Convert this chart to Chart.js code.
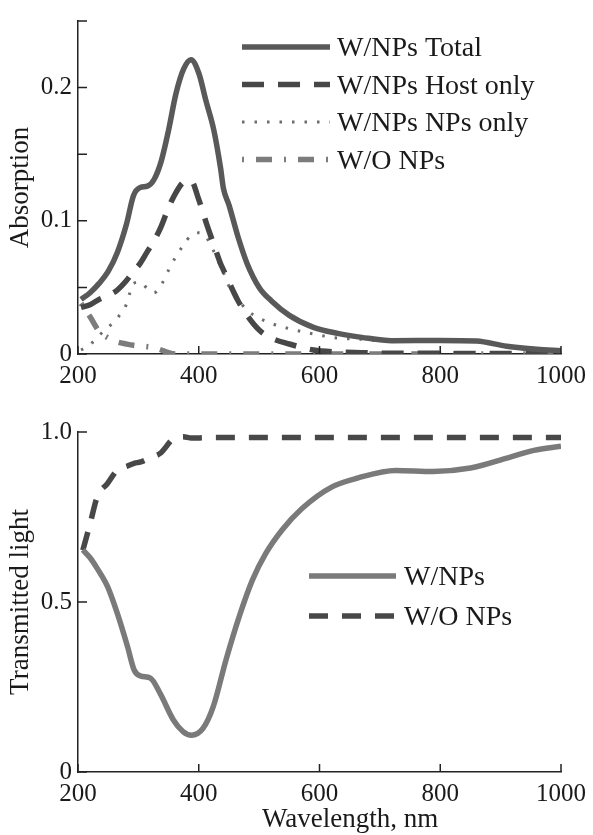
<!DOCTYPE html>
<html>
<head>
<meta charset="utf-8">
<title>Absorption / Transmitted light</title>
<script src="https://cdn.jsdelivr.net/npm/chart.js@4.4.0/dist/chart.umd.min.js"></script>
<style>
    html, body { margin: 0; padding: 0; background: #fff; }
    #wrap { position: relative; width: 593px; height: 835px; }
    .box { position: absolute; left: 0; width: 593px; }
    #xTitle {
        position: absolute; top: 805px; left: 262px;
        font: 27px 'Liberation Serif', 'DejaVu Serif', serif; color: #1a1a1a;
        white-space: nowrap; line-height: 1;
    }
</style>
</head>
<body>
<div id="wrap">
    <div class="box" style="top:0;height:395px"><canvas id="absChart"></canvas></div>
    <div class="box" style="top:395px;height:440px"><canvas id="transChart"></canvas></div>
    <div id="xTitle">Wavelength, nm</div>
</div>
<script>
// 上圖：吸收光譜
const WL_ABS = [205, 220, 235, 250, 265, 280, 292, 303, 315, 326, 338, 350, 362, 375, 387, 400, 412, 425, 436, 441, 450, 465, 480, 500, 520, 550, 590, 630, 670, 720, 800, 860, 910, 960, 1000];
const ABS_TOTAL = [0.041, 0.046, 0.053, 0.062, 0.076, 0.097, 0.119, 0.125, 0.126, 0.131, 0.145, 0.168, 0.195, 0.214, 0.221, 0.211, 0.190, 0.168, 0.140, 0.124, 0.112, 0.088, 0.068, 0.050, 0.040, 0.029, 0.020, 0.0155, 0.0125, 0.0100, 0.0102, 0.0098, 0.0058, 0.0035, 0.0025];
const ABS_HOST = [0.035, 0.037, 0.041, 0.044, 0.048, 0.055, 0.062, 0.068, 0.077, 0.085, 0.096, 0.110, 0.121, 0.129, 0.130, 0.116, 0.099, 0.082, 0.068, 0.063, 0.054, 0.040, 0.029, 0.018, 0.012, 0.0075, 0.003, 0.0015, 0.001, 0.0005, 0.0005, 0.0003, 0.0003, 0.0002, 0];
const ABS_NPS = [0.003, 0.007, 0.014, 0.020, 0.027, 0.037, 0.053, 0.054, 0.049, 0.046, 0.052, 0.063, 0.073, 0.082, 0.089, 0.091, 0.088, 0.077, 0.066, 0.061, 0.051, 0.041, 0.033, 0.027, 0.023, 0.019, 0.015, 0.012, 0.011, 0.0093, 0.0097, 0.0093, 0.0053, 0.003, 0.002];
const ABS_WO = [0.038, 0.028, 0.017, 0.012, 0.009, 0.0075, 0.0065, 0.006, 0.0055, 0.0048, 0.003, 0.001, 0, 0, 0, 0, 0, 0, 0, 0, 0, 0, 0, 0, 0, 0, 0, 0, 0, 0, 0, 0, 0, 0, 0];
const ABS_LABELS = ['W/NPs Total', 'W/NPs Host only', 'W/NPs NPs only', 'W/O NPs'];
const ABS_Y_TICKS = ['0', '', '0.1', '', '0.2', ''];

// 下圖：透射光
const WL_TRANS = [208, 220, 232, 249, 265, 282, 293, 304, 320, 336, 358, 374, 388, 407, 424, 445, 467, 489, 511, 538, 571, 620, 664, 726, 788, 850, 912, 955, 1000];
const TRANS_WITH = [0.653, 0.630, 0.598, 0.545, 0.467, 0.369, 0.300, 0.282, 0.276, 0.231, 0.153, 0.119, 0.108, 0.128, 0.192, 0.329, 0.457, 0.565, 0.643, 0.712, 0.775, 0.838, 0.865, 0.887, 0.884, 0.894, 0.924, 0.946, 0.958];
const TRANS_WO = [0.652, 0.730, 0.810, 0.849, 0.888, 0.900, 0.908, 0.912, 0.925, 0.937, 0.980, 0.986, 0.982, 0.983, 0.984, 0.984, 0.984, 0.984, 0.984, 0.984, 0.984, 0.984, 0.984, 0.984, 0.984, 0.984, 0.984, 0.984, 0.984];
const TRANS_LABELS = ['W/NPs', 'W/O NPs'];
const TRANS_Y_TICKS = ['0', '0.5', '1.0'];

const X_TICK_STEP = 200;

const FONT_FAMILY = "'Liberation Serif', 'DejaVu Serif', serif";
const TEXT_COLOR = '#1a1a1a';
const AXIS_COLOR = '#222';

function toPoints(xs, ys) {
    return xs.map((x, i) => ({ x: x, y: ys[i] }));
}

// 向內的刻度線
const inwardTicks = {
    id: 'inwardTicks',
    afterDraw(chart) {
        const { ctx, chartArea } = chart;
        const x = chart.scales.x, y = chart.scales.y;
        ctx.save();
        ctx.strokeStyle = AXIS_COLOR;
        ctx.lineWidth = 1.5;
        ctx.beginPath();
        x.ticks.forEach(t => {
            const px = x.getPixelForValue(t.value);
            ctx.moveTo(px, chartArea.bottom);
            ctx.lineTo(px, chartArea.bottom - 8);
        });
        y.ticks.forEach(t => {
            const py = y.getPixelForValue(t.value);
            ctx.moveTo(chartArea.left, py);
            ctx.lineTo(chartArea.left + 9, py);
        });
        ctx.stroke();
        ctx.restore();
    }
};

// 圖內圖例
const lineLegend = {
    id: 'lineLegend',
    afterDraw(chart, args, opts) {
        const ctx = chart.ctx;
        ctx.save();
        chart.data.datasets.forEach((ds, i) => {
            const yy = opts.y0 + i * opts.step;
            ctx.strokeStyle = ds.borderColor;
            ctx.lineWidth = ds.borderWidth;
            ctx.lineCap = 'butt';
            ctx.setLineDash(ds.borderDash || []);
            ctx.beginPath();
            ctx.moveTo(opts.x0, yy);
            ctx.lineTo(opts.x1, yy);
            ctx.stroke();
            ctx.setLineDash([]);
            ctx.fillStyle = TEXT_COLOR;
            ctx.font = '28px ' + FONT_FAMILY;
            ctx.textBaseline = 'middle';
            ctx.textAlign = 'left';
            ctx.fillText(ds.label, opts.x1 + opts.gap, yy + 2);
        });
        ctx.restore();
    }
};

function lineSet(label, xs, ys, color, width, dash) {
    return {
        label: label,
        data: toPoints(xs, ys),
        borderColor: color,
        borderWidth: width,
        borderDash: dash,
        borderCapStyle: 'butt',
        borderJoinStyle: 'round',
        pointRadius: 0,
        fill: false,
        cubicInterpolationMode: 'monotone'
    };
}

function baseScales(yMax, yStep, yLabels, yTitle, xHeight, yWidth) {
    return {
        x: {
            type: 'linear', min: 200, max: 1000,
            grid: { display: false, drawTicks: false },
            border: { display: true, color: AXIS_COLOR, width: 1.5 },
            ticks: {
                stepSize: X_TICK_STEP, padding: 7, color: TEXT_COLOR, maxRotation: 0,
                font: { family: FONT_FAMILY, size: 25 },
                callback: v => String(v)
            },
            afterFit: s => { s.height = xHeight; }
        },
        y: {
            min: 0, max: yMax,
            grid: { display: false, drawTicks: false },
            border: { display: true, color: AXIS_COLOR, width: 1.5 },
            ticks: {
                stepSize: yStep, padding: 6, color: TEXT_COLOR,
                font: { family: FONT_FAMILY, size: 25 },
                callback: (v, i) => yLabels[i]
            },
            title: {
                display: true, text: yTitle, color: TEXT_COLOR,
                font: { family: FONT_FAMILY, size: 27, lineHeight: 1.2 },
                padding: { top: 5, bottom: 0 }
            },
            afterFit: s => { s.width = yWidth; }
        }
    };
}

function initAbsChart() {
    const ctx = document.getElementById('absChart');
    new Chart(ctx, {
        type: 'line',
        data: {
            datasets: [
                lineSet(ABS_LABELS[0], WL_ABS, ABS_TOTAL, '#595959', 5.5, []),
                lineSet(ABS_LABELS[1], WL_ABS, ABS_HOST, '#474747', 5.5, [22, 14]),
                lineSet(ABS_LABELS[2], WL_ABS, ABS_NPS, '#6c6c6c', 3, [2.5, 10]),
                lineSet(ABS_LABELS[3], WL_ABS, ABS_WO, '#7c7c7c', 5.5, [2, 12, 16, 12])
            ]
        },
        options: {
            responsive: true,
            maintainAspectRatio: false,
            animation: false,
            layout: { padding: { left: 0, right: 27, top: 15, bottom: 0 } },
            scales: baseScales(0.25, 0.05, ABS_Y_TICKS, 'Absorption', 41, 78),
            plugins: {
                legend: { display: false },
                tooltip: { enabled: false },
                lineLegend: { x0: 242, x1: 330, gap: 7, y0: 47, step: 37.5 }
            }
        },
        plugins: [inwardTicks, lineLegend]
    });
}

function initTransChart() {
    const ctx = document.getElementById('transChart');
    new Chart(ctx, {
        type: 'line',
        data: {
            datasets: [
                lineSet(TRANS_LABELS[0], WL_TRANS, TRANS_WITH, '#7a7a7a', 5.5, []),
                lineSet(TRANS_LABELS[1], WL_TRANS, TRANS_WO, '#484848', 5.5, [19, 14])
            ]
        },
        options: {
            responsive: true,
            maintainAspectRatio: false,
            animation: false,
            layout: { padding: { left: 0, right: 26, top: 37, bottom: 0 } },
            scales: baseScales(1, 0.5, TRANS_Y_TICKS, 'Transmitted light', 63, 78),
            plugins: {
                legend: { display: false },
                tooltip: { enabled: false },
                lineLegend: { x0: 309, x1: 396, gap: 8, y0: 181, step: 40 }
            }
        },
        plugins: [inwardTicks, lineLegend]
    });
}

window.onload = function() {
    initAbsChart();
    initTransChart();
};
</script>
</body>
</html>
